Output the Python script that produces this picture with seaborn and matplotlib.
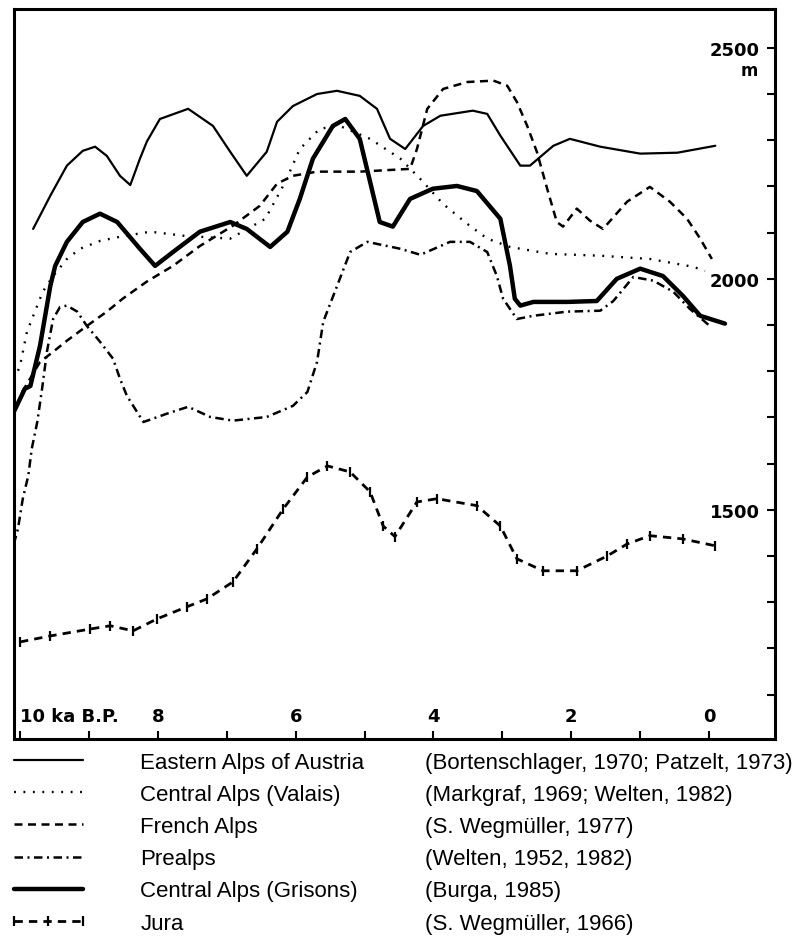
import numpy as np
import matplotlib
import matplotlib.pyplot as plt
import seaborn as sns
from matplotlib.ticker import MultipleLocator
from matplotlib.lines import Line2D

sns.set_theme(style="white", rc={"text.color": "black", "axes.edgecolor": "black",
                                 "xtick.color": "black", "ytick.color": "black",
                                 "axes.labelcolor": "black"})
plt.rcParams['font.family'] = ['Liberation Sans', 'DejaVu Sans']

# ── Дані (ka B.P. / м) ──────────────────────────────────────────
east_age = [9.81, 9.56, 9.32, 9.09, 8.91, 8.74, 8.55, 8.40, 8.26, 8.16, 7.97, 7.56, 7.20,
            6.95, 6.71, 6.42, 6.27, 6.04, 5.69, 5.40, 5.07, 4.82, 4.63, 4.41, 4.15, 3.90,
            3.43, 3.22, 3.03, 2.74, 2.60, 2.26, 2.02, 1.58, 1.00, 0.46, -0.09]
east_alt = [2108, 2180, 2245, 2277, 2286, 2266, 2223, 2203, 2260, 2297, 2346, 2368, 2331,
            2275, 2223, 2275, 2340, 2374, 2400, 2407, 2396, 2368, 2303, 2281, 2331, 2353,
            2364, 2357, 2310, 2245, 2245, 2288, 2303, 2286, 2271, 2273, 2288]

valais_age = [10.03, 10.00, 9.90, 9.75, 9.67, 9.52, 9.32, 9.13, 8.84, 8.55, 8.11, 7.61, 6.95,
              6.44, 6.15, 5.94, 5.65, 5.36, 4.92, 4.48, 4.19, 3.86, 3.51, 3.22, 2.89, 2.31,
              1.58, 0.86, 0.23, 0.06]
valais_alt = [1801, 1812, 1885, 1942, 1972, 2006, 2043, 2065, 2082, 2091, 2102, 2093, 2087,
              2130, 2210, 2281, 2325, 2331, 2303, 2260, 2216, 2162, 2119, 2087, 2069, 2054,
              2050, 2043, 2026, 2017]

french_age = [9.97, 9.71, 9.52, 9.32, 9.03, 8.74, 8.51, 8.16, 7.78, 7.39, 6.91, 6.52, 6.27,
              6.04, 5.69, 5.07, 4.34, 4.24, 4.09, 3.86, 3.51, 3.13, 2.93, 2.79, 2.64, 2.50,
              2.35, 2.21, 2.12, 1.92, 1.73, 1.54, 1.19, 0.86, 0.57, 0.32, 0.13, -0.04]
french_alt = [1755, 1820, 1842, 1866, 1898, 1929, 1957, 1994, 2028, 2071, 2115, 2158, 2206,
              2223, 2232, 2232, 2238, 2281, 2368, 2411, 2426, 2429, 2418, 2383, 2331, 2275,
              2195, 2123, 2113, 2152, 2126, 2108, 2167, 2199, 2167, 2130, 2087, 2043]

prealps_age = [10.09, 10.03, 9.96, 9.88, 9.83, 9.75, 9.68, 9.61, 9.52, 9.42, 9.32, 9.17, 9.03,
               8.84, 8.65, 8.55, 8.45, 8.21, 7.87, 7.56, 7.24, 6.91, 6.42, 6.04, 5.83, 5.69,
               5.60, 5.46, 5.21, 4.96, 4.48, 4.19, 3.76, 3.47, 3.22, 3.08, 2.99, 2.79, 2.55,
               2.06, 1.58, 1.39, 1.10, 0.81, 0.52, 0.28, -0.01]
prealps_alt = [1426, 1459, 1524, 1574, 1632, 1690, 1762, 1842, 1913, 1939, 1942, 1929, 1898,
               1864, 1827, 1784, 1747, 1690, 1708, 1723, 1701, 1693, 1701, 1725, 1755, 1820,
               1907, 1961, 2058, 2080, 2065, 2052, 2080, 2080, 2058, 2006, 1957, 1913, 1920,
               1929, 1931, 1952, 2004, 1996, 1972, 1935, 1898]

grisons_age = [10.09, 9.93, 9.85, 9.71, 9.56, 9.49, 9.32, 9.09, 8.84, 8.59, 8.26, 8.04, 7.78,
               7.39, 6.95, 6.71, 6.37, 6.12, 5.94, 5.75, 5.46, 5.28, 5.07, 4.92, 4.78, 4.59,
               4.34, 4.01, 3.66, 3.37, 3.03, 2.89, 2.82, 2.74, 2.55, 2.06, 1.63, 1.34, 1.00,
               0.67, 0.38, 0.13, -0.23]
grisons_alt = [1712, 1762, 1768, 1855, 1985, 2028, 2080, 2123, 2141, 2123, 2065, 2028, 2058,
               2102, 2123, 2108, 2069, 2102, 2173, 2260, 2331, 2346, 2303, 2210, 2123, 2113,
               2173, 2195, 2201, 2190, 2130, 2028, 1957, 1942, 1950, 1950, 1952, 2000, 2022,
               2006, 1963, 1920, 1903]

jura_age = [10.00, 9.56, 8.98, 8.69, 8.36, 8.01, 7.58, 7.29, 6.91, 6.56, 6.18, 5.83, 5.54,
            5.21, 4.92, 4.73, 4.56, 4.24, 3.95, 3.37, 3.03, 2.79, 2.41, 1.92, 1.48, 1.19,
            0.86, 0.38, -0.09]
jura_alt = [1214, 1227, 1242, 1249, 1238, 1264, 1290, 1307, 1344, 1416, 1502, 1571, 1595,
            1582, 1539, 1465, 1442, 1517, 1524, 1509, 1465, 1394, 1368, 1368, 1400, 1426,
            1444, 1437, 1422]

names = ["Eastern Alps of Austria", "Central Alps (Valais)", "French Alps",
         "Prealps", "Central Alps (Grisons)", "Jura"]
cites = ["(Bortenschlager, 1970; Patzelt, 1973)", "(Markgraf, 1969; Welten, 1982)",
         "(S. Wegmüller, 1977)", "(Welten, 1952, 1982)", "(Burga, 1985)",
         "(S. Wegmüller, 1966)"]

x_major = [10, 8, 6, 4, 2, 0]
x_labels = ["10 ka B.P.", "8", "6", "4", "2", "0"]
x_minor = [9, 7, 5, 3, 1]
y_major = [1500, 2000, 2500]
y_labels = ["1500", "2000", "2500"]

# ── Стилі ліній ─────────────────────────────────────────────────
styles = [
    dict(linewidth=1.6, linestyle="-"),
    dict(linewidth=1.7, linestyle=(0, (0.8, 3.2))),
    dict(linewidth=1.8, linestyle=(0, (3.2, 2.2))),
    dict(linewidth=1.8, linestyle=(0, (3.4, 1.8, 0.8, 1.8))),
    dict(linewidth=3.2, linestyle="-"),
    dict(linewidth=2.0, linestyle=(0, (3.0, 2.2)), marker="|", markersize=7,
         markeredgewidth=1.6, markeredgecolor="black", markerfacecolor="black"),
]
data = [(east_age, east_alt), (valais_age, valais_alt), (french_age, french_alt),
        (prealps_age, prealps_alt), (grisons_age, grisons_alt), (jura_age, jura_alt)]

fig = plt.figure(figsize=(8.02, 9.37), dpi=100)
ax = fig.add_axes([0.0175, 0.2103, 0.949, 0.779])

for (xa, ya), st, nm in zip(data, styles, names):
    sns.lineplot(x=xa, y=ya, ax=ax, color="black", sort=False, estimator=None,
                 label=nm, legend=False, **st)
if ax.get_legend() is not None:
    ax.get_legend().remove()

ax.set_xlim(10.087, -0.958)
ax.set_ylim(1004, 2584)
ax.set_xticks(x_major)
ax.set_xticklabels(x_labels)
ax.set_xticks(x_minor, minor=True)
ax.set_yticks(y_major)
ax.set_yticklabels(y_labels)
ax.yaxis.set_minor_locator(MultipleLocator(100))

for sp in ax.spines.values():
    sp.set_linewidth(2.2)
    sp.set_color("black")

ax.tick_params(axis="x", which="both", direction="in", bottom=True, top=False,
               length=6, width=1.5, pad=-23, labelsize=13)
ax.tick_params(axis="y", which="both", direction="in", right=True, left=False,
               labelright=True, labelleft=False, length=6, width=1.5, pad=-11, labelsize=13)
for lab in ax.get_xticklabels() + ax.get_yticklabels():
    lab.set_fontweight("bold")
    lab.set_family("DejaVu Sans")
for lab in ax.get_yticklabels():
    lab.set_ha("right")
ax.get_xticklabels()[0].set_ha("left")

ax.annotate("m", xy=(1, 2500), xycoords=("axes fraction", "data"), xytext=(-12, -16),
            textcoords="offset points", ha="right", va="center", fontsize=12,
            fontweight="bold", family="DejaVu Sans")

# ── Легенда: лінія + назва, окремо — посилання ──────────────────
handles = ax.get_lines()[:6]
leg_kw = dict(loc="upper left", frameon=False, fontsize=16, labelspacing=0.5,
              borderpad=0, borderaxespad=0)
fig.legend(handles=handles, labels=names, bbox_to_anchor=(7 / 802, 1 - 753 / 937),
           handlelength=3.7, handletextpad=2.3, numpoints=3, **leg_kw)
blank = [Line2D([], [], linestyle="none") for _ in cites]
fig.legend(handles=blank, labels=cites, bbox_to_anchor=(425 / 802, 1 - 753 / 937),
           handlelength=0, handletextpad=0, **leg_kw)

fig.savefig("out.png", dpi=100)
